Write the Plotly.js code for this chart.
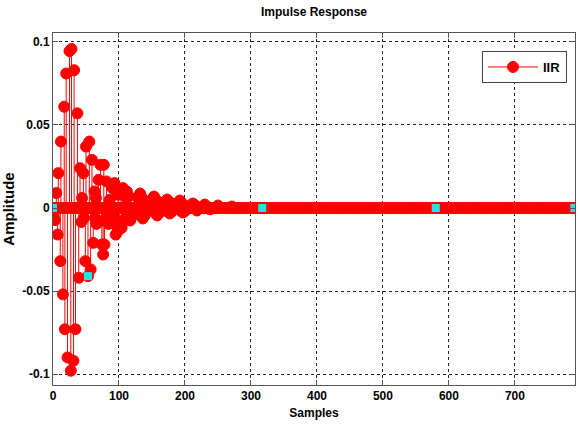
<!DOCTYPE html>
<html>
<head>
<meta charset="utf-8">
<script src="https://cdn.plot.ly/plotly-3.0.1.min.js"></script>
<style>html,body{margin:0;padding:0;background:#fff;}#chart{width:578px;height:427px;}</style>
</head>
<body>
<div id="chart"></div>
<script>
// ---- data ----
const sampleCount = 791; // samples 0..790, tail read as 0
const posSamples = [5, 8, 12, 17, 20, 25, 28, 32, 37, 41, 44, 46, 50, 55, 59, 63, 65, 69, 72, 77, 81, 86, 90, 93, 99, 103, 106,
  109, 112, 115, 129, 132, 135, 150, 153, 156, 170, 173, 176, 189, 192, 195, 209, 212, 215, 230, 250, 271];
const posAmp = [0.009, 0.021, 0.040, 0.061, 0.081, 0.0945, 0.0958, 0.083, 0.057, 0.024, 0.006, 0.021, 0.037, 0.040, 0.029, 0.010, 0.006, 0.017, 0.026, 0.026, 0.016, 0.005, 0.012, 0.015, 0.008, 0.010, 0.012,
  0.007, 0.0099, 0.007, 0.006, 0.0087, 0.006, 0.005, 0.0069, 0.005, 0.0038, 0.0051, 0.0038, 0.003, 0.0045, 0.003, 0.0018, 0.0027, 0.0018, 0.0021, 0.0015, 0.0009];
const negSamples = [1, 3, 7, 11, 15, 18, 22, 27, 31, 34, 39, 43, 47, 49, 53, 57, 61, 64, 66, 70, 74, 76, 78, 82, 84, 89, 92, 95, 98, 101, 104, 107, 110,
  114, 117, 120, 133, 136, 139, 155, 158, 161, 174, 177, 180, 194, 197, 200, 218, 238];
const negAmp = [-0.004, -0.0073, -0.016, -0.032, -0.052, -0.073, -0.090, -0.098, -0.092, -0.073, -0.042, -0.0084, -0.006, -0.032, -0.041, -0.037, -0.021, -0.006, -0.0096, -0.008, -0.022, -0.028, -0.022, -0.005, -0.0096, -0.009, -0.006, -0.016, -0.014, -0.009, -0.012, -0.008, -0.006,
  -0.005, -0.0075, -0.005, -0.0045, -0.0063, -0.0045, -0.003, -0.0045, -0.003, -0.0022, -0.0033, -0.0022, -0.0018, -0.0027, -0.0018, -0.0015, -0.0008];
const cursorSamples = [0, 53, 317, 580, 790];
const cursorAmp = [0, -0.041, 0, 0, 0];
const xTicks = [0, 100, 200, 300, 400, 500, 600, 700];
const yTicks = [-0.1, -0.05, 0, 0.05, 0.1];
const yTickText = ['-0.1', '-0.05', '0', '0.05', '0.1'];

// ---- build traces ----
const peakX = posSamples.concat(negSamples);
const peakY = posAmp.concat(negAmp);
const used = new Set(peakX);
const zeroX = [], zeroY = [];
for (let n = 0; n < sampleCount; n++) { if (!used.has(n)) { zeroX.push(n); zeroY.push(0); } }

const FONT = "'Liberation Sans', Arial, sans-serif";
const RED = '#ff0000';
const txt = (size) => ({ family: FONT, size: size, color: '#000', weight: 'bold' });
const MK = { color: RED, size: 11, line: { color: RED, width: 1 } };

const traces = [
  { x: zeroX, y: zeroY, type: 'scatter', mode: 'lines+markers', name: 'IIR',
    line: { color: RED, width: 1 }, marker: MK },
  { x: peakX, y: peakY, type: 'scatter', mode: 'markers', showlegend: false, hoverinfo: 'x+y',
    marker: MK,
    error_y: { type: 'data', symmetric: false,
      array: peakY.map(v => v < 0 ? -v : 0),
      arrayminus: peakY.map(v => v > 0 ? v : 0),
      width: 0, thickness: 1, color: RED } },
  { x: cursorSamples, y: cursorAmp, type: 'scatter', mode: 'markers', showlegend: false,
    marker: { color: '#22e4e8', symbol: 'square', size: 8, line: { width: 0 } } }
];

const layout = {
  width: 578, height: 427,
  margin: { l: 53, r: 3, t: 33, b: 42, autoexpand: false },
  paper_bgcolor: '#fff', plot_bgcolor: '#fff',
  font: txt(12),
  title: { text: 'Impulse Response', x: 0.5, xref: 'paper', xanchor: 'center',
    y: 1 - 12 / 427, yref: 'container', yanchor: 'middle', font: txt(12) },
  xaxis: {
    range: [0, 791], tickvals: xTicks, ticktext: xTicks.map(String),
    showgrid: true, gridcolor: '#222', gridwidth: 1, griddash: '3px,3px',
    zeroline: false, showline: true, linecolor: '#555', linewidth: 1, mirror: 'ticks',
    ticks: 'inside', ticklen: 5, tickcolor: '#555',
    tickfont: txt(12),
    title: { text: 'Samples', standoff: 6, font: txt(12) }
  },
  yaxis: {
    range: [-0.1066, 0.1054], tickvals: yTicks, ticktext: yTickText,
    showgrid: true, gridcolor: '#222', gridwidth: 1, griddash: '3px,3px',
    zeroline: false, showline: true, linecolor: '#555', linewidth: 1, mirror: 'ticks',
    ticks: 'inside', ticklen: 5, tickcolor: '#555',
    tickfont: txt(12),
    title: { text: 'Amplitude', standoff: 6, font: txt(15) }
  },
  showlegend: true,
  legend: { x: (567 - 53) / 522, y: (385 - 51) / 352, xanchor: 'right', yanchor: 'top',
    itemwidth: 50, bgcolor: '#fff', bordercolor: '#444', borderwidth: 1,
    font: txt(13) }
};

Plotly.newPlot('chart', traces, layout, { displayModeBar: false, staticPlot: true });
</script>
</body>
</html>
